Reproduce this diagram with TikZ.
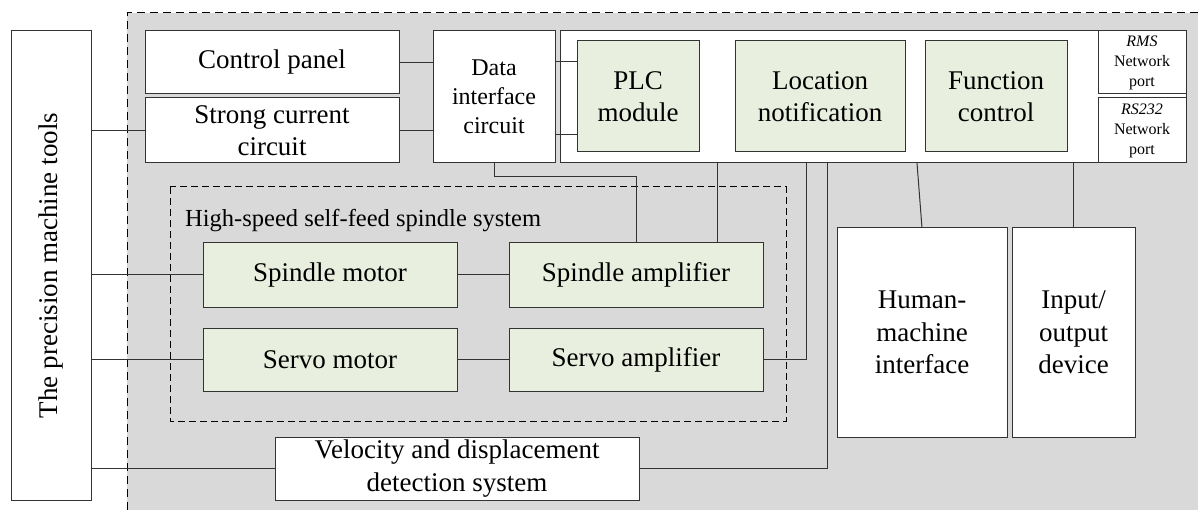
\documentclass[tikz,border=0pt]{standalone}
\usepackage{fontspec}
\setmainfont{Liberation Serif}
\definecolor{linec}{HTML}{333333}
\definecolor{bgc}{HTML}{D9D9D9}
\definecolor{greenc}{HTML}{E9EFDE}
\begin{document}
\begin{tikzpicture}[x=1pt,y=-1pt,
  box/.style={draw=linec, line width=1pt, fill=white, inner sep=0pt, outer sep=0pt, align=center, font=\fontsize{27}{32.5}\selectfont},
  gbox/.style={box, fill=greenc},
  conn/.style={draw=linec, line width=1pt},
  dsh/.style={draw=black, line width=1pt, dash pattern=on 8pt off 5pt}]
\useasboundingbox (0,0) rectangle (1198,510);
% gray region
\fill[bgc] (127,13) rectangle (1198,510);
\draw[dsh] (127,510) -- (127,13) -- (1198,13);
% inner dashed region
\draw[dsh, dash pattern=on 7pt off 4pt] (170,187) rectangle (786,421);
\node[anchor=base west, inner sep=0pt, font=\fontsize{24.5}{29}\selectfont] (lbl) at (185,227) {High-speed self-feed spindle system};

% nodes
\node[box, minimum width=80pt, minimum height=469pt] (mt) at (51,265.5) {\rotatebox{90}{The precision machine tools}};
\node[box, minimum width=254pt, minimum height=63pt] (cp) at (272,62.5) {Control panel};
\node[box, minimum width=254pt, minimum height=65pt] (sc) at (272,130.5) {Strong current\\circuit};
\node[box, minimum width=122pt, minimum height=132pt, font=\fontsize{24}{29}\selectfont] (dic) at (494,97) {Data\\interface\\circuit};
\node[box, minimum width=626pt, minimum height=132pt] (big) at (873,97) {};
\node[gbox, minimum width=122pt, minimum height=111pt] (plc) at (638,96.5) {PLC\\module};
\node[gbox, minimum width=170pt, minimum height=111pt] (loc) at (820,96.5) {Location\\notification};
\node[gbox, minimum width=142pt, minimum height=111pt] (fc) at (996,96.5) {Function\\control};
\node[box, minimum width=88pt, minimum height=63pt, font=\fontsize{16}{20}\selectfont] (rms) at (1142,62.5) {\textit{RMS}\\Network\\port};
\node[box, minimum width=88pt, minimum height=65pt, font=\fontsize{16}{20}\selectfont] (rs) at (1142,130.5) {\textit{RS232}\\Network\\port};

\node[gbox, minimum width=254pt, minimum height=64pt] (sm) at (330,275) {Spindle motor};
\node[gbox, minimum width=254pt, minimum height=64pt] (sa) at (636,275) {Spindle amplifier};
\node[gbox, minimum width=254pt, minimum height=63pt] (svm) at (330,359.5) {Servo motor};
\node[gbox, minimum width=254pt, minimum height=63pt] (sva) at (636,359.5) {Servo amplifier};
\node[box, minimum width=364pt, minimum height=63pt] (vel) at (457,468.5) {Velocity and displacement\\detection system};

\node[box, minimum width=170pt, minimum height=209pt] (hmi) at (922,332.5) {Human-\\machine\\interface};
\node[box, minimum width=123pt, minimum height=209pt] (io) at (1073.5,332.5) {Input/\\output\\device};

% helper coordinates
\coordinate (x1) at (717,0);
\coordinate (x2) at (806,0);
\coordinate (x3) at (827,0);
\coordinate (x4) at (917,0);
\coordinate (x5) at (1073.5,0);

% connectors
\draw[conn] (cp.east) -- (cp.east -| dic.west);
\draw[conn] (sc.east) -- (sc.east -| dic.west);
\draw[conn] (sc.west -| mt.east) -- (sc.west);
\draw[conn] ([yshift=35pt]dic.east) -- ([yshift=35pt]dic.east -| plc.west);
\draw[conn] ([yshift=-38pt]dic.east) -- ([yshift=-38pt]dic.east -| plc.west);
\draw[conn] (dic.south) -- ++(0,14) -| (sa.north);
\draw[conn] (big.south -| x1) -- (sa.north -| x1);
\draw[conn] (sva.east) -| (big.south -| x2);
\draw[conn] (vel.east) -| (big.south -| x3);
\draw[conn] (big.south -| x4) -- (hmi.north);
\draw[conn] (big.south -| x5) -- (io.north);
\draw[conn] (sm.west -| mt.east) -- (sm.west);
\draw[conn] (svm.west -| mt.east) -- (svm.west);
\draw[conn] (vel.west -| mt.east) -- (vel.west);
\draw[conn] (sm.east) -- (sa.west);
\draw[conn] (svm.east) -- (sva.west);
\end{tikzpicture}
\end{document}
